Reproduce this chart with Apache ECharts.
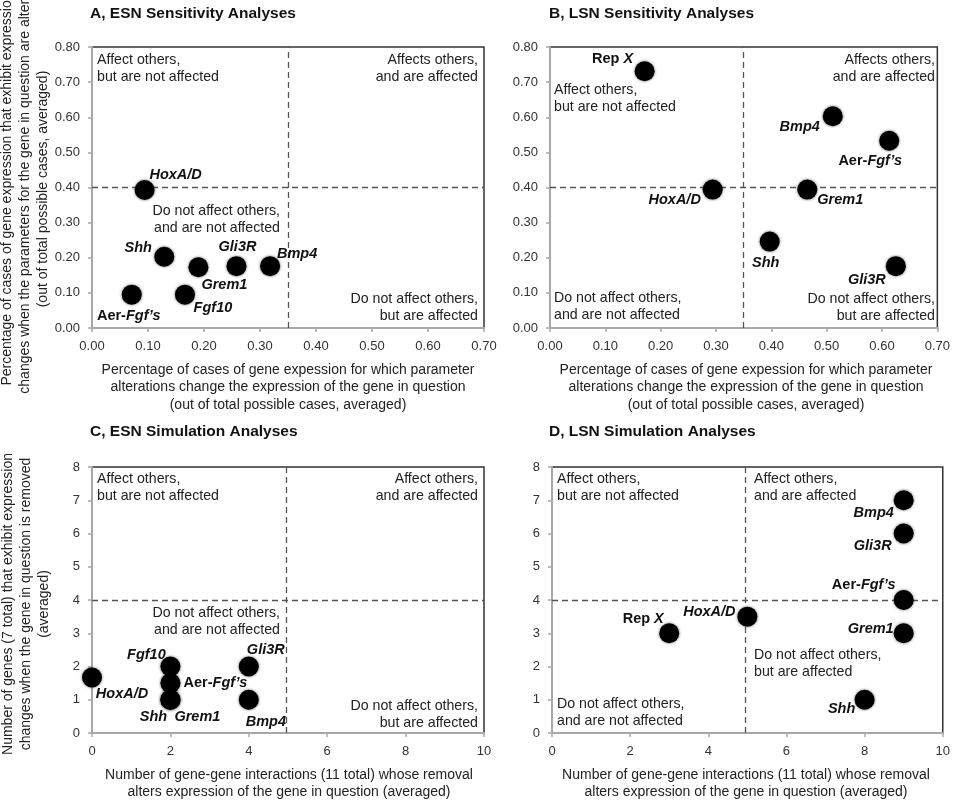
<!DOCTYPE html>
<html>
<head>
<meta charset="utf-8">
<script src="https://cdn.jsdelivr.net/npm/echarts@6/dist/echarts.min.js"></script>
<style>
html,body{margin:0;padding:0;background:#fff;}
#chart{width:953px;height:800px;}
</style>
</head>
<body>
<div id="chart"></div>
<script>
// ---------- DATA ----------
const esnSensGenes = ['HoxA/D', 'Shh', 'Grem1', 'Gli3R', 'Bmp4', 'Aer-Fgf’s', 'Fgf10'];
const esnSensX = [0.094, 0.129, 0.19, 0.258, 0.318, 0.071, 0.166];
const esnSensY = [0.393, 0.203, 0.173, 0.176, 0.176, 0.095, 0.095];

const lsnSensGenes = ['Rep X', 'Bmp4', 'Aer-Fgf’s', 'HoxA/D', 'Grem1', 'Shh', 'Gli3R'];
const lsnSensX = [0.171, 0.511, 0.613, 0.294, 0.465, 0.397, 0.625];
const lsnSensY = [0.731, 0.603, 0.533, 0.394, 0.394, 0.246, 0.176];

const esnSimGenes = ['HoxA/D', 'Fgf10', 'Aer-Fgf’s', 'Shh', 'Grem1', 'Gli3R', 'Bmp4'];
const esnSimX = [0, 2, 2, 2, 2, 4, 4];
const esnSimY = [1.67, 2, 1.5, 1, 1, 2, 1];

const lsnSimGenes = ['Rep X', 'HoxA/D', 'Bmp4', 'Gli3R', 'Aer-Fgf’s', 'Grem1', 'Shh'];
const lsnSimX = [3, 5, 9, 9, 9, 9, 8];
const lsnSimY = [3, 3.5, 7, 6, 4, 3, 1];

const sensThreshX = 0.35, sensThreshY = 0.40;
const simThreshX = 4.95, simThreshY = 4;

const panelTitles = ['A, ESN Sensitivity Analyses', 'B, LSN Sensitivity Analyses',
                     'C, ESN Simulation Analyses', 'D, LSN Simulation Analyses'];
const sensXTitle = 'Percentage of cases of gene expession for which parameter\nalterations change the expression of the gene in question\n(out of total possible cases, averaged)';
const sensYTitle = 'Percentage of cases of gene expression that exhibit expression\nchanges when the parameters for the gene in question are altered\n(out of total possible cases, averaged)';
const simXTitle = 'Number of gene-gene interactions (11 total) whose removal\nalters expression of the gene in question (averaged)';
const simYTitle = 'Number of genes (7 total) that exhibit expression\nchanges when the gene in question is removed\n(averaged)';

// ---------- LABEL OFFSETS (style, not data) ----------
const offA = [[31,-15],[-26,-9],[26,18],[1,-19],[27,-12],[-3,21],[28,13]];
const offB = [[-32,-12],[-33,11],[-19,20],[-38,10],[33,10],[-4,21],[-29,14]];
const offC = [[30,17],[-24,-12],[45,0],[-17,17],[27,17],[17,-17],[17,22]];
const offD = [[-26,-14],[-38,-5],[-30,13],[-31,12],[-40,-15],[-33,-4],[-23,9]];

const FONT = '"Liberation Sans", Arial, Helvetica, sans-serif';

function richName(n) {
  if (n.indexOf('Aer-') === 0) return '{n|Aer-}{i|' + n.slice(4) + '}';
  if (n.indexOf('Rep ') === 0) return '{n|Rep }{i|' + n.slice(4) + '}';
  return '{i|' + n + '}';
}

function buildData(genes, xs, ys, offs) {
  return genes.map((g, k) => ({
    name: g,
    value: [xs[k], ys[k]],
    label: { offset: offs[k] }
  }));
}

function makeSeries(idx, genes, xs, ys, offs, tx, ty) {
  return {
    type: 'scatter',
    xAxisIndex: idx, yAxisIndex: idx,
    symbol: 'circle', symbolSize: 20,
    clip: false,
    itemStyle: { color: '#000', opacity: 1, shadowBlur: 3, shadowColor: 'rgba(0,0,0,0.6)' },
    label: {
      show: true, position: 'inside',
      formatter: p => richName(p.name),
      rich: {
        n: { fontFamily: FONT, fontSize: 14.5, fontWeight: 'bold', fontStyle: 'normal', color: '#111' },
        i: { fontFamily: FONT, fontSize: 14.5, fontWeight: 'bold', fontStyle: 'italic', color: '#111' }
      }
    },
    emphasis: { disabled: true },
    data: buildData(genes, xs, ys, offs),
    markLine: {
      silent: true, symbol: 'none',
      label: { show: false },
      lineStyle: { color: '#555', type: [6, 4], width: 1.3, opacity: 1 },
      data: [{ xAxis: tx }, { yAxis: ty }]
    },
    z: 5
  };
}

const grids = [
  { left: 92, top: 47, width: 392, height: 281 },
  { left: 550, top: 47, width: 390, height: 281 },
  { left: 92, top: 467, width: 392, height: 266 },
  { left: 552, top: 467, width: 394, height: 266 }
].map(g => Object.assign(g, { show: true, borderColor: '#333', borderWidth: 1.5, backgroundColor: '#fff' }));

function xAx(idx, sens) {
  return {
    gridIndex: idx, type: 'value', min: 0, max: sens ? 0.7 : 10, interval: sens ? 0.1 : 2,
    axisLine: { show: true, lineStyle: { color: '#a8a8a8', width: 2 } },
    axisTick: { show: true, length: 4, lineStyle: { color: '#a8a8a8', width: 1.5 } },
    splitLine: { show: false },
    axisLabel: { margin: 12, fontFamily: FONT, fontSize: 13, color: '#333',
                 formatter: v => sens ? v.toFixed(2) : String(v) }
  };
}
function yAx(idx, sens) {
  return {
    gridIndex: idx, type: 'value', min: 0, max: sens ? 0.8 : 8, interval: sens ? 0.1 : 1,
    axisLine: { show: true, lineStyle: { color: '#a8a8a8', width: 2 } },
    axisTick: { show: true, length: 4, lineStyle: { color: '#a8a8a8', width: 1.5 } },
    splitLine: { show: false },
    axisLabel: { margin: 12, fontFamily: FONT, fontSize: 13, color: '#333',
                 formatter: v => sens ? v.toFixed(2) : String(v) }
  };
}

function qText(x, y, text, align) {
  return { type: 'text', x: x, y: y, z: 3,
    style: { text: text, font: '14.2px ' + FONT, fill: '#222', align: align, verticalAlign: 'middle', lineHeight: 17 } };
}
function title(x, y, text) {
  return { type: 'text', x: x, y: y,
    style: { text: text, font: 'bold 15.5px ' + FONT, fill: '#111', align: 'left', verticalAlign: 'middle' } };
}
function axTitle(x, y, text, rot) {
  return { type: 'text', x: x, y: y, rotation: rot ? Math.PI / 2 : 0,
    style: { text: text, font: '14px ' + FONT, fill: '#222', align: 'center', verticalAlign: 'middle', lineHeight: rot ? 18 : 17.5 } };
}

const AFF_NOT = 'Affect others,\nbut are not affected';
const AFFS_AND = 'Affects others,\nand are affected';
const AFF_AND = 'Affect others,\nand are affected';
const NOT_NOT = 'Do not affect others,\nand are not affected';
const NOT_BUT = 'Do not affect others,\nbut are affected';

const graphics = [
  title(90, 14, panelTitles[0]), title(549, 14, panelTitles[1]),
  title(90, 432, panelTitles[2]), title(549, 432, panelTitles[3]),
  axTitle(25, 189, sensYTitle, true), axTitle(26, 604, simYTitle, true),
  axTitle(288, 387.5, sensXTitle, false), axTitle(746, 387.5, sensXTitle, false),
  axTitle(289, 783.5, simXTitle, false), axTitle(746, 783.5, simXTitle, false),
  // A
  qText(97, 68.5, AFF_NOT, 'left'), qText(478, 68.5, AFFS_AND, 'right'),
  qText(280, 219.5, NOT_NOT, 'right'), qText(478, 307.5, NOT_BUT, 'right'),
  // B
  qText(554, 99, AFF_NOT, 'left'), qText(935, 68.5, AFFS_AND, 'right'),
  qText(554, 306.5, NOT_NOT, 'left'), qText(935, 307.5, NOT_BUT, 'right'),
  // C
  qText(97, 487.5, AFF_NOT, 'left'), qText(478, 487.5, AFF_AND, 'right'),
  qText(280, 622, NOT_NOT, 'right'), qText(478, 714.5, NOT_BUT, 'right'),
  // D
  qText(557, 487.5, AFF_NOT, 'left'), qText(754, 487.5, AFF_AND, 'left'),
  qText(754, 664, NOT_BUT, 'left'), qText(557, 712.5, NOT_NOT, 'left')
];

const chart = echarts.init(document.getElementById('chart'), null, { renderer: 'canvas' });
chart.setOption({
  animation: false,
  backgroundColor: '#fff',
  grid: grids,
  xAxis: [xAx(0, true), xAx(1, true), xAx(2, false), xAx(3, false)],
  yAxis: [yAx(0, true), yAx(1, true), yAx(2, false), yAx(3, false)],
  series: [
    makeSeries(0, esnSensGenes, esnSensX, esnSensY, offA, sensThreshX, sensThreshY),
    makeSeries(1, lsnSensGenes, lsnSensX, lsnSensY, offB, sensThreshX, sensThreshY),
    makeSeries(2, esnSimGenes, esnSimX, esnSimY, offC, simThreshX, simThreshY),
    makeSeries(3, lsnSimGenes, lsnSimX, lsnSimY, offD, simThreshX, simThreshY)
  ],
  graphic: graphics
});
</script>
</body>
</html>
